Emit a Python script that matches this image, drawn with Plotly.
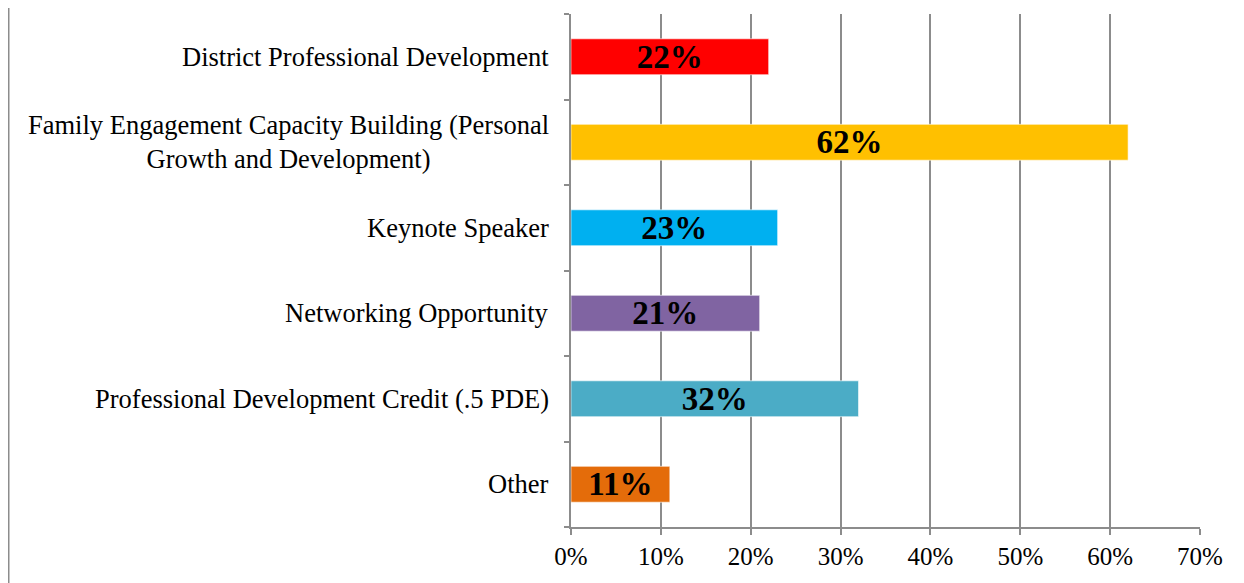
import plotly.graph_objects as go

categories = [
    "District Professional Development",
    "Family Engagement Capacity Building (Personal<br>Growth and Development)",
    "Keynote Speaker",
    "Networking Opportunity",
    "Professional Development Credit (.5 PDE)",
    "Other",
]
values = [22, 62, 23, 21, 32, 11]
labels = ["22%", "62%", "23%", "21%", "32%", "11%"]
colors = ["#FF0000", "#FFC000", "#00B0F0", "#8064A2", "#4BACC6", "#E46C0A"]
xticks = [0, 10, 20, 30, 40, 50, 60, 70]
xticklabels = ["0%", "10%", "20%", "30%", "40%", "50%", "60%", "70%"]

FONT = "Liberation Serif, Times New Roman, serif"
GRID = "#8C8C8C"

L, R, T, B = 563, 52, 6, 64
PLOT_W = 1244 - L - R

fig = go.Figure(
    go.Bar(
        y=list(range(len(categories))),
        x=values,
        orientation="h",
        marker=dict(color=colors, line=dict(color="rgba(255,255,255,0.6)", width=1)),
        width=0.42,
        text=labels,
        textposition="inside",
        insidetextanchor="middle",
        constraintext="none",
        textfont=dict(family=FONT, size=33, color="black", weight="bold"),
        hoverinfo="skip",
    )
)

annotations = []
for i, c in enumerate(categories):
    annotations.append(
        dict(
            x=0, xref="paper", y=i, yref="y",
            text=c, showarrow=False, xanchor="right", yanchor="middle",
            align="center", xshift=-20,
            font=dict(family=FONT, size=26.5, color="black"),
        )
    )

fig.update_layout(
    width=1244,
    height=583,
    margin=dict(l=L, r=R, t=T, b=B),
    paper_bgcolor="white",
    plot_bgcolor="white",
    showlegend=False,
    annotations=annotations,
    shapes=[
        dict(type="line", xref="paper", yref="paper",
             x0=-(L - 0.5) / PLOT_W, x1=-(L - 0.5) / PLOT_W, y0=-0.3, y1=1.1,
             line=dict(color="#8C8C8C", width=2)),
    ],
    xaxis=dict(
        range=[0, 70],
        tickvals=xticks,
        ticktext=xticklabels,
        showgrid=True,
        gridcolor=GRID,
        gridwidth=1.5,
        showline=True,
        linecolor=GRID,
        linewidth=1.5,
        ticks="outside",
        ticklen=6,
        tickcolor=GRID,
        tickwidth=1.5,
        tickfont=dict(family=FONT, size=25, color="black"),
        zeroline=False,
    ),
    yaxis=dict(
        range=[len(categories) - 0.5, -0.5],
        tickvals=[i - 0.5 for i in range(len(categories) + 1)],
        ticktext=[""] * (len(categories) + 1),
        showgrid=False,
        showline=True,
        linecolor=GRID,
        linewidth=1.5,
        ticks="outside",
        ticklen=5,
        tickcolor=GRID,
        tickwidth=1.5,
        zeroline=False,
    ),
)

fig.write_html("out.html")
